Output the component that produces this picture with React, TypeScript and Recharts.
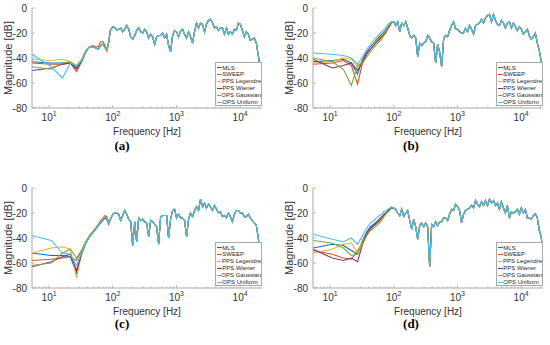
import React from "react";
import { LineChart, Line, XAxis, YAxis, Label } from "recharts";

const seriesNames = ["MLS", "SWEEP", "PPS Legendre", "PPS Wiener", "OPS Gaussian", "OPS Uniform"];
const seriesColors = ["#0072BD", "#D95319", "#EDB120", "#7E2F8E", "#77AC30", "#4DBEEE"];

// low frequency bins (Hz), where the six measurements differ
const freqLow = [5.38, 10.77, 16.15, 21.53, 26.92, 32.3, 37.68, 43.07, 48.45, 53.83, 59.22, 64.6, 69.98, 75.37, 80.75, 86.13, 91.52];

// upper band (Hz), where all measurements overlap
const freqTail = [
  100, 107, 115, 124, 133, 143, 154, 165, 178, 191, 205, 221, 237, 255, 274, 295, 317, 340, 366, 393,
  422, 454, 488, 524, 564, 606, 651, 700, 752, 808, 869, 934, 1004, 1079, 1160, 1246, 1340, 1440, 1548, 1663,
  1788, 1921, 2065, 2219, 2385, 2563, 2755, 2961, 3182, 3420, 3676, 3950, 4246, 4563, 4904, 5271, 5665, 6088, 6543, 7032,
  7558, 8123, 8730, 9382, 10084, 10837, 11647, 12518, 13453, 14459, 15540, 16702, 17951, 19293, 20735, 22050,
];

const yTicks = [-80, -60, -40, -20, 0];
const decadeTicks = [10, 100, 1000, 10000];
const xTicks = [
  6, 7, 8, 9, 10, 20, 30, 40, 50, 60, 70, 80, 90, 100, 200, 300, 400, 500, 600, 700, 800, 900,
  1000, 2000, 3000, 4000, 5000, 6000, 7000, 8000, 9000, 10000, 20000,
];

// rows: MLS, SWEEP, PPS Legendre, PPS Wiener, OPS Gaussian, OPS Uniform
const lowA = [
  [-43, -44, -44, -44, -48, -42, -35, -31, -31, -32, -33, -30, -29, -31, -33, -27, -18],
  [-44, -45, -45, -44, -51, -43, -35, -31, -30, -31, -31, -27, -27, -30, -34, -28, -18],
  [-41, -42, -41, -43, -46, -41, -34, -31, -31, -32, -33, -30, -29, -32, -35, -28, -18],
  [-50, -48, -45, -44, -49, -43, -35, -31, -31, -32, -33, -30, -29, -31, -33, -27, -18],
  [-47, -49, -44, -43, -47, -42, -34, -31, -31, -32, -33, -30, -29, -32, -34, -27, -18],
  [-37, -47, -56, -44, -46, -42, -35, -31, -31, -32, -33, -30, -29, -31, -33, -27, -18],
];
const tailA = [
  -15, -15.5, -17.5, -17, -16, -19, -17, -14, -17, -23, -25, -22, -18, -16, -19, -20, -17, -19, -24, -21,
  -23, -29, -23, -22, -22, -20, -24, -21, -30, -35, -22, -18, -19, -23, -18, -17, -21, -24, -19, -23,
  -28, -19, -12, -16, -12, -13, -19, -13, -10, -9, -12, -16, -15, -18, -16, -16, -21, -16, -21, -19,
  -21, -17, -18, -12, -13, -18, -23, -19, -21, -26, -25, -24, -28, -38, -48, -68,
];

const lowB = [
  [-43, -42, -41, -44, -53, -41, -35, -31, -28, -25, -23, -21, -19, -17, -15, -13, -11],
  [-45, -44, -42, -46, -61, -44, -37, -33, -30, -27, -25, -23, -21, -19, -16, -14, -12],
  [-44, -43, -40, -41, -47, -42, -36, -32, -29, -26, -24, -22, -20, -18, -15, -13, -11],
  [-41, -48, -46, -44, -50, -43, -36, -33, -30, -27, -25, -23, -21, -19, -16, -14, -12],
  [-40, -43, -49, -62, -46, -44, -39, -35, -32, -29, -27, -25, -22, -20, -17, -15, -12],
  [-36, -37, -38, -40, -45, -39, -33, -29, -26, -23, -21, -19, -17, -15, -13, -12, -11],
];
const tailB = [
  -11, -14, -11, -19, -12, -14, -11, -16, -22, -24, -22, -24, -39, -28, -30, -28, -27, -22, -24, -27,
  -28, -44, -29, -35, -47, -25, -22, -23, -18, -14, -11, -17, -17, -19, -20, -20, -16, -19, -14, -17,
  -21, -14, -13, -12, -9, -12, -8, -6, -5, -11, -5, -10, -13, -14, -10, -12, -16, -12, -11, -16,
  -12, -15, -18, -15, -17, -21, -19, -17, -22, -25, -23, -20, -28, -34, -43, -60,
];

const lowC = [
  [-52, -54, -54, -55, -68, -52, -44, -39, -36, -33, -30, -27, -25, -23, -24, -28, -25],
  [-58, -57, -56, -55, -58, -50, -43, -38, -35, -32, -29, -26, -24, -22, -23, -27, -25],
  [-52, -48, -47, -49, -72, -53, -44, -39, -36, -33, -30, -27, -25, -24, -25, -28, -25],
  [-63, -59, -55, -53, -66, -53, -44, -39, -36, -33, -30, -28, -26, -24, -25, -29, -25],
  [-62, -60, -52, -49, -56, -50, -43, -38, -35, -32, -29, -27, -25, -23, -24, -28, -25],
  [-38, -42, -52, -53, -62, -52, -44, -39, -36, -33, -30, -27, -25, -23, -24, -28, -25],
];
const tailC = [
  -21, -20, -20, -21, -26, -22, -18, -21, -25, -27, -46, -27, -43, -24, -26, -25, -27, -28, -39, -26,
  -27, -29, -31, -45, -23, -22, -22, -22, -40, -25, -18, -17, -24, -21, -24, -24, -26, -39, -25, -20,
  -23, -18, -15, -18, -9, -15, -12, -16, -13, -15, -18, -14, -17, -20, -19, -23, -22, -24, -20, -23,
  -27, -21, -18, -18, -20, -20, -23, -23, -21, -24, -26, -28, -30, -40, -55, -66,
];

const lowD = [
  [-48, -45, -46, -50, -53, -42, -35, -31, -29, -27, -25, -23, -21, -20, -18, -17, -16],
  [-50, -53, -56, -57, -50, -44, -37, -33, -30, -28, -26, -24, -22, -20, -19, -17, -16],
  [-52, -49, -45, -44, -52, -43, -36, -32, -30, -28, -26, -24, -22, -20, -19, -17, -16],
  [-49, -56, -58, -56, -59, -45, -36, -32, -30, -28, -26, -24, -22, -20, -19, -17, -16],
  [-42, -44, -48, -54, -53, -45, -38, -34, -32, -30, -28, -26, -23, -21, -19, -18, -16],
  [-37, -41, -43, -40, -45, -38, -32, -28, -26, -24, -22, -21, -19, -18, -17, -16, -15],
];
const tailD = [
  -16, -17, -20, -22, -17, -23, -20, -18, -26, -33, -25, -31, -41, -30, -28, -31, -28, -31, -63, -29,
  -31, -27, -30, -27, -27, -24, -24, -26, -21, -17, -18, -13, -15, -18, -28, -21, -18, -17, -16, -14,
  -16, -10, -13, -15, -11, -14, -10, -14, -9, -12, -10, -14, -12, -17, -11, -16, -20, -14, -24, -19,
  -20, -19, -17, -21, -16, -20, -17, -24, -24, -25, -22, -20.5, -24, -34, -39, -58,
];

const panels = [
  { id: "a", left: 0, top: 0, capX: 122, capY: 146, low: lowA, tail: tailA },
  { id: "b", left: 281, top: 0, capX: 411, capY: 146, low: lowB, tail: tailB },
  { id: "c", left: 0, top: 180, capX: 122, capY: 324, low: lowC, tail: tailC },
  { id: "d", left: 281, top: 180, capX: 411, capY: 324, low: lowD, tail: tailD },
];

const W = 268;
const H = 140;
const AXIS = "#a8a8a8";
const TEXT = "#333333";
const FONT = "'Liberation Sans', Arial, sans-serif";

const buildSeries = (low: number[], tail: number[]) => [
  ...freqLow.map((f, i) => ({ f, v: low[i] })),
  ...freqTail.map((f, i) => ({ f, v: tail[i] })),
];

const BottomTick = (props: any) => {
  const { x, y, payload } = props;
  const major = decadeTicks.includes(payload.value);
  return (
    <g>
      <line x1={x} x2={x} y1={y} y2={y - (major ? 3 : 1.5)} stroke={AXIS} strokeWidth={0.8} />
      {major && (
        <text x={x} y={y + 12.5} textAnchor="middle" fontSize={10} fill={TEXT} fontFamily={FONT}>
          10
          <tspan dy={-4.5} fontSize={7}>
            {decadeTicks.indexOf(payload.value) + 1}
          </tspan>
        </text>
      )}
    </g>
  );
};

const TopTick = (props: any) => {
  const { x, y, payload } = props;
  const major = decadeTicks.includes(payload.value);
  return <line x1={x} x2={x} y1={y} y2={y + (major ? 3 : 1.5)} stroke={AXIS} strokeWidth={0.8} />;
};

const LeftTick = (props: any) => {
  const { x, y, payload } = props;
  return (
    <g>
      <line x1={x} x2={x + 3} y1={y} y2={y} stroke={AXIS} strokeWidth={0.8} />
      <text x={x - 5} y={y + 3.5} textAnchor="end" fontSize={10} fill={TEXT} fontFamily={FONT}>
        {payload.value}
      </text>
    </g>
  );
};

const RightTick = (props: any) => {
  const { x, y } = props;
  return <line x1={x} x2={x - 3} y1={y} y2={y} stroke={AXIS} strokeWidth={0.8} />;
};

const Panel = ({ p }: { p: (typeof panels)[number] }) => {
  const series = p.low.map((low) => buildSeries(low, p.tail));
  return (
    <div style={{ position: "absolute", left: p.left, top: p.top, width: W, height: H }}>
      <LineChart width={W} height={H} margin={{ top: 8, right: 6, bottom: 0, left: 0 }}>
        <XAxis
          type="number"
          dataKey="f"
          scale="log"
          domain={[5.38, 22050]}
          allowDataOverflow
          ticks={xTicks}
          interval={0}
          height={32}
          tickSize={0}
          tickMargin={0}
          tick={BottomTick}
          axisLine={{ stroke: AXIS }}
        >
          <Label
            content={() => (
              <text x={147} y={134.5} textAnchor="middle" fontSize={10} fill={TEXT} fontFamily={FONT}>
                Frequency [Hz]
              </text>
            )}
          />
        </XAxis>
        <XAxis
          xAxisId="top"
          orientation="top"
          type="number"
          dataKey="f"
          scale="log"
          domain={[5.38, 22050]}
          allowDataOverflow
          ticks={xTicks}
          interval={0}
          height={0}
          tickSize={0}
          tickMargin={0}
          tick={TopTick}
          axisLine={{ stroke: AXIS }}
        />
        <YAxis
          domain={[-80, 0]}
          ticks={yTicks}
          interval={0}
          width={32}
          tickSize={0}
          tickMargin={0}
          tick={LeftTick}
          axisLine={{ stroke: AXIS }}
        >
          <Label
            content={() => (
              <text
                x={12.4}
                y={58}
                transform="rotate(-90 12.4 58)"
                textAnchor="middle"
                fontSize={11}
                fill={TEXT}
                fontFamily={FONT}
              >
                Magnitude [dB]
              </text>
            )}
          />
        </YAxis>
        <YAxis
          yAxisId="right"
          orientation="right"
          domain={[-80, 0]}
          ticks={yTicks}
          interval={0}
          width={0}
          tickSize={0}
          tickMargin={0}
          tick={RightTick}
          axisLine={{ stroke: AXIS }}
        />
        {series.map((data, s) => (
          <Line
            key={seriesNames[s]}
            name={seriesNames[s]}
            data={data}
            dataKey="v"
            type="linear"
            stroke={seriesColors[s]}
            strokeWidth={1.1}
            dot={false}
            activeDot={false}
            isAnimationActive={false}
          />
        ))}
      </LineChart>
      <div
        style={{
          position: "absolute",
          left: 215,
          top: 62,
          width: 47,
          height: 44,
          border: `1px solid ${AXIS}`,
          background: "#fff",
          boxSizing: "border-box",
          paddingTop: 1.5,
          fontFamily: FONT,
          fontSize: 6,
          color: "#262626",
        }}
      >
        {seriesNames.map((name, s) => (
          <div key={name} style={{ display: "flex", alignItems: "center", height: 6.9, lineHeight: "6.9px", whiteSpace: "nowrap" }}>
            <span style={{ display: "inline-block", width: 5, height: 1, background: seriesColors[s], marginLeft: 0.5, marginRight: 0.8 }} />
            {name}
          </div>
        ))}
      </div>
    </div>
  );
};

export default function App() {
  return (
    <div style={{ position: "absolute", left: 0, top: 0, width: 550, height: 345, overflow: "hidden" }}>
      {panels.map((p) => (
        <React.Fragment key={p.id}>
          <Panel p={p} />
          <div
            style={{
              position: "absolute",
              left: p.capX,
              top: p.capY,
              transform: "translate(-50%, -50%)",
              fontFamily: "'Liberation Serif', 'DejaVu Serif', serif",
              fontWeight: "bold",
              fontSize: 13,
              color: "#000",
            }}
          >
            ({p.id})
          </div>
        </React.Fragment>
      ))}
    </div>
  );
}
